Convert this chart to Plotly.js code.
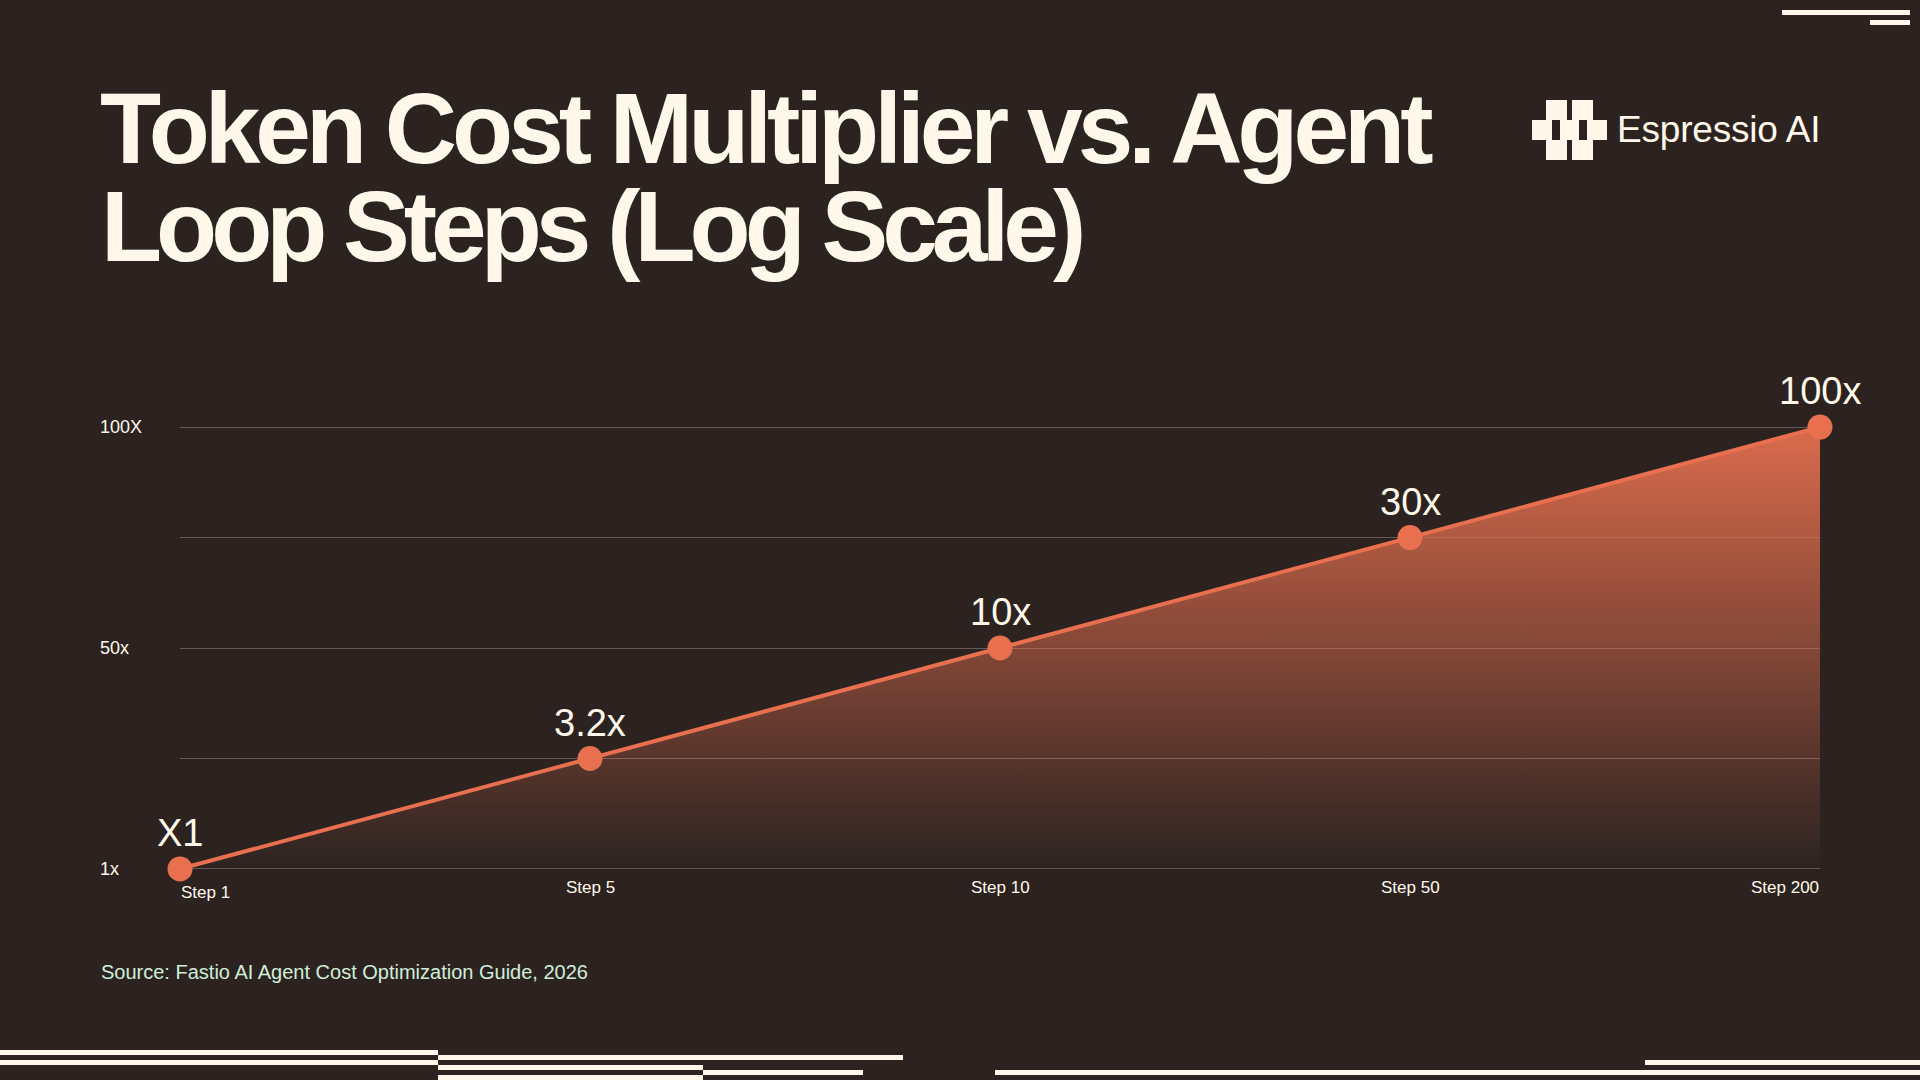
<!DOCTYPE html>
<html>
<head>
<meta charset="utf-8">
<script src="https://cdn.plot.ly/plotly-3.0.1.min.js"></script>
<style>
  html, body { margin: 0; padding: 0; background: #2c2321; }
  #chart { width: 1920px; height: 1080px; }
  .gtitle { letter-spacing: -5px; }
  .annotation[data-index="0"] .annotation-text { letter-spacing: -6px; }
  .annotation[data-index="1"] .annotation-text { letter-spacing: -0.2px; }
</style>
</head>
<body>
<div id="chart"></div>
<script>
// ---- data ----
const steps = ['Step 1', 'Step 5', 'Step 10', 'Step 50', 'Step 200'];
const multiplier = [1, 3.16, 10, 31.6, 100];
const baseMultiplier = [1, 1, 1, 1, 1];
const pointLabels = ['X1', '3.2x', '10x', '30x', '100x'];
const yTickVals = [1, 3.162, 10, 31.62, 100];
const yTickText = ['1x', '', '50x', '', '100X'];
const titleLine1 = 'Token Cost Multiplier vs. Agent';
const titleLine2 = 'Loop Steps (Log Scale)';
const brandName = 'Espressio AI';
const sourceText = 'Source: Fastio AI Agent Cost Optimization Guide, 2026';

// ---- styling ----
const BG = '#2c2321';
const CREAM = '#fff8ea';
const ORANGE = '#e8704f';
const MINT = '#cfeed8';
const FONT = 'Liberation Sans, Arial, Helvetica, sans-serif';

const W = 1920, H = 1080;
const M = { l: 96, r: 100, t: 426, b: 210 };
const pw = W - M.l - M.r, ph = H - M.t - M.b;
const px = x => (x - M.l) / pw;
const py = y => (H - M.b - y) / ph;

function rect(x0, y0, x1, y1, color) {
  return { type: 'rect', xref: 'paper', yref: 'paper',
    x0: px(x0), x1: px(x1), y0: py(y1), y1: py(y0),
    fillcolor: color, line: { width: 0 }, layer: 'above' };
}

const shapes = [
  // top-right decoration
  rect(1782, 10, 1910, 15, CREAM),
  rect(1870, 20, 1910, 25, CREAM),
  // bottom-left decoration
  rect(0, 1050, 438, 1055, CREAM),
  rect(0, 1060, 438, 1065, CREAM),
  rect(438, 1055, 903, 1060, CREAM),
  rect(438, 1065, 703, 1070, CREAM),
  rect(703, 1070, 863, 1075, CREAM),
  rect(438, 1075, 703, 1080, CREAM),
  // bottom-right decoration
  rect(1645, 1060, 1920, 1065, CREAM),
  rect(995, 1070, 1920, 1075, CREAM),
  // logo mark
  rect(1532, 120, 1607, 140, CREAM),
  rect(1546, 100, 1567, 160, CREAM),
  rect(1572, 100, 1593, 160, CREAM),
  rect(1552, 120, 1560, 140, BG),
  rect(1579, 120, 1587, 140, BG)
];

const annotations = [
  { text: titleLine2, xref: 'paper', yref: 'paper', x: px(100), y: py(226),
    xanchor: 'left', yanchor: 'middle', align: 'left', showarrow: false, borderpad: 0,
    font: { family: FONT, size: 100, color: CREAM, weight: 700 } },
  { text: brandName, xref: 'paper', yref: 'paper', x: px(1616), y: py(129),
    xanchor: 'left', yanchor: 'middle', align: 'left', showarrow: false, borderpad: 0,
    font: { family: FONT, size: 37, color: CREAM } },
  { text: sourceText, xref: 'paper', yref: 'paper', x: px(100), y: py(972),
    xanchor: 'left', yanchor: 'middle', align: 'left', showarrow: false, borderpad: 0,
    font: { family: FONT, size: 20, color: MINT } }
];

// x tick labels: first left-aligned, last right-aligned, others centred
steps.forEach((s, i) => {
  const first = i === 0, last = i === steps.length - 1;
  annotations.push({
    text: s, xref: 'x', yref: 'paper', x: i,
    y: py(first ? 892 : 887),
    xanchor: first ? 'left' : (last ? 'right' : 'center'),
    yanchor: 'middle', showarrow: false, borderpad: 0,
    font: { family: FONT, size: 17, color: CREAM }
  });
});

// value labels above each point
multiplier.forEach((v, i) => {
  annotations.push({
    text: pointLabels[i], xref: 'x', yref: 'y', x: i, y: Math.log10(v),
    xanchor: 'center', yanchor: 'bottom', yshift: 14, showarrow: false, borderpad: 0,
    font: { family: FONT, size: 38, color: CREAM }
  });
});

const traces = [
  { x: steps, y: baseMultiplier, type: 'scatter', mode: 'lines',
    line: { width: 0, color: 'rgba(0,0,0,0)' }, hoverinfo: 'skip', showlegend: false },
  { x: steps, y: multiplier, type: 'scatter', mode: 'lines+markers',
    line: { color: ORANGE, width: 4 },
    marker: { color: ORANGE, size: 25 },
    fill: 'tonexty',
    fillgradient: { type: 'vertical',
      colorscale: [[0, 'rgba(232,112,79,0.0)'], [1, 'rgba(232,112,79,0.93)']] },
    cliponaxis: false, showlegend: false }
];

const layout = {
  width: W, height: H,
  margin: M,
  paper_bgcolor: BG, plot_bgcolor: BG,
  font: { family: FONT, color: CREAM },
  showlegend: false,
  title: { text: titleLine1, xref: 'container', yref: 'container',
    x: 100 / W, xanchor: 'left', y: 1 - 128 / H, yanchor: 'middle',
    font: { family: FONT, size: 100, color: CREAM, weight: 700 } },
  xaxis: { type: 'category', categoryorder: 'array', categoryarray: steps,
    range: [0, steps.length - 1], domain: [px(180), 1],
    showgrid: false, zeroline: false, showline: false, showticklabels: false, ticks: '' },
  yaxis: { type: 'log', range: [-0.005, 2.005], anchor: 'free', position: 0,
    tickmode: 'array', tickvals: yTickVals, ticktext: yTickText,
    ticklabelposition: 'inside', ticklabeloverflow: 'allow',
    tickfont: { family: FONT, size: 18, color: CREAM },
    showgrid: true, gridcolor: 'rgba(255,225,225,0.28)', gridwidth: 1,
    zeroline: false, showline: false, ticks: '' },
  shapes: shapes,
  annotations: annotations
};

Plotly.newPlot('chart', traces, layout, { displayModeBar: false, staticPlot: true });
</script>
</body>
</html>
